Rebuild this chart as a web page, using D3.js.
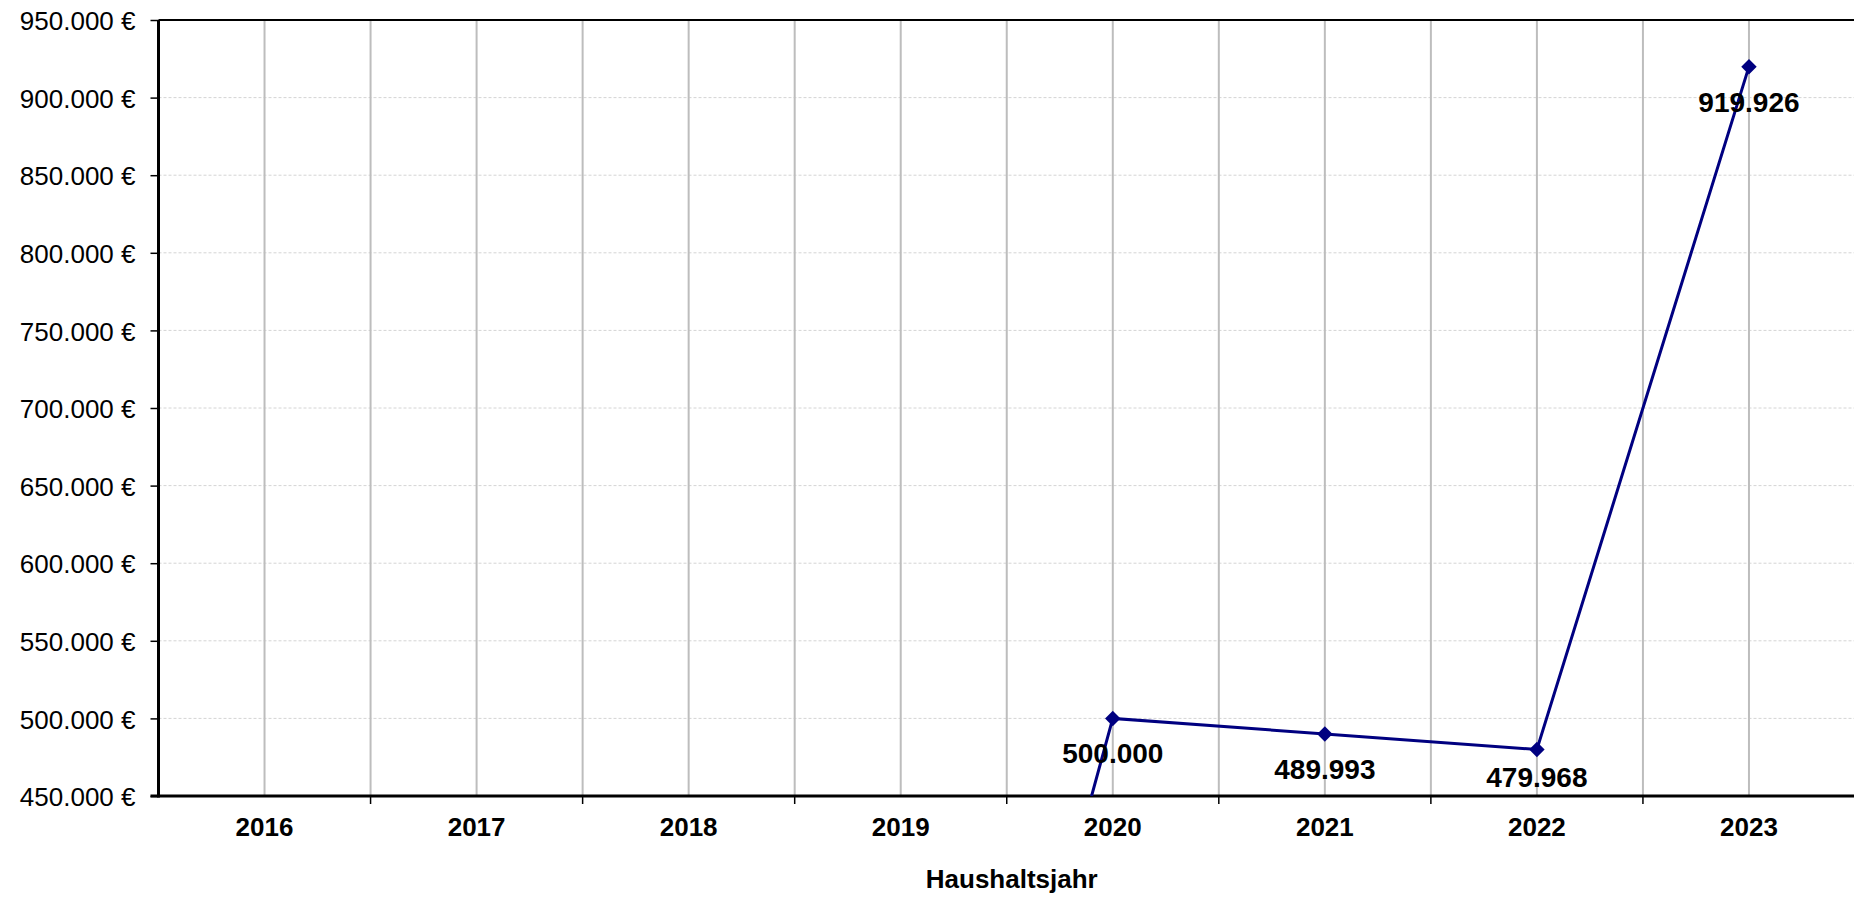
<!DOCTYPE html>
<html>
<head>
<meta charset="utf-8">
<script src="https://cdn.jsdelivr.net/npm/d3@7"></script>
<style>
    html, body { margin: 0; padding: 0; background: #fff; overflow: hidden; }
    svg { display: block; font-family: "Liberation Sans", Arial, sans-serif; }
</style>
</head>
<body>
<svg width="1854" height="897"></svg>
<script>
// chart data
var years = ["2016", "2017", "2018", "2019", "2020", "2021", "2022", "2023"];
var amounts = [null, null, null, 0, 500000, 489993, 479968, 919926];
var yTicks = [450000, 500000, 550000, 600000, 650000, 700000, 750000, 800000, 850000, 900000, 950000];

var svg = d3.select("svg");
var margin = {top: 20, right: 0, bottom: 101, left: 158.5};
var width = 1854 - margin.left - margin.right + 1;
var height = 897 - margin.top - margin.bottom;

var fmt = d3.formatLocale({decimal: ",", thousands: ".", grouping: [3], currency: ["", " €"]}).format(",.0f");

var x = d3.scaleBand().domain(years).range([0, width]).padding(0);
var y = d3.scaleLinear().domain([450000, 950000]).range([height, 0]);

var g = svg.append("g")
    .attr("transform", "translate(" + margin.left + "," + margin.top + ")");

svg.append("defs").append("clipPath").attr("id", "plot")
    .append("rect").attr("x", 0).attr("y", 0).attr("width", width).attr("height", height);

// horizontal grid (dashed)
g.append("g").selectAll("line")
    .data(yTicks.slice(1, -1))
    .enter().append("line")
    .attr("x1", 0).attr("x2", width)
    .attr("y1", function(d) { return y(d); })
    .attr("y2", function(d) { return y(d); })
    .style("stroke", "#d4d4d4")
    .style("stroke-width", 1)
    .style("stroke-dasharray", "3,2");

// vertical grid at category centres and borders
var vLines = [];
years.forEach(function(d, i) {
    vLines.push(x(d) + x.bandwidth() / 2);
    if (i > 0) vLines.push(x(d));
});
g.append("g").selectAll("line")
    .data(vLines)
    .enter().append("line")
    .attr("x1", function(d) { return d; })
    .attr("x2", function(d) { return d; })
    .attr("y1", 0).attr("y2", height)
    .style("stroke", "#bdbdbd")
    .style("stroke-width", 2);

// top border
g.append("line")
    .attr("x1", 0).attr("x2", width).attr("y1", 0).attr("y2", 0)
    .style("stroke", "#000").style("stroke-width", 2);

// y axis
var yAxis = g.append("g")
    .call(d3.axisLeft(y).tickValues(yTicks).tickSize(8).tickPadding(15)
        .tickFormat(function(d) { return fmt(d) + " €"; }));
yAxis.select(".domain").remove();
yAxis.selectAll(".tick line").style("stroke", "#000").style("stroke-width", 1.5);
yAxis.selectAll("text")
    .style("font-family", "Liberation Sans, Arial, sans-serif")
    .style("font-size", "26px")
    .attr("dy", "0.37em")
    .attr("fill", "#000");

// x axis ticks at category borders
g.append("g").selectAll("line")
    .data(years.slice(1))
    .enter().append("line")
    .attr("x1", function(d) { return x(d); })
    .attr("x2", function(d) { return x(d); })
    .attr("y1", height).attr("y2", height + 8)
    .style("stroke", "#000").style("stroke-width", 1.5);

g.append("g").selectAll("text")
    .data(years)
    .enter().append("text")
    .attr("x", function(d) { return x(d) + x.bandwidth() / 2; })
    .attr("y", height + 40)
    .attr("text-anchor", "middle")
    .style("font-size", "26px")
    .style("font-weight", "bold")
    .text(function(d) { return d; });

g.append("line")
    .attr("x1", 0).attr("x2", 0).attr("y1", 0).attr("y2", height + 1.5)
    .style("stroke", "#000").style("stroke-width", 3);
g.append("line")
    .attr("x1", -8).attr("x2", width).attr("y1", height).attr("y2", height)
    .style("stroke", "#000").style("stroke-width", 3);

// axis title
svg.append("text")
    .attr("x", margin.left + width / 2 + 5)
    .attr("y", 888)
    .attr("text-anchor", "middle")
    .style("font-size", "26px")
    .style("font-weight", "bold")
    .text("Haushaltsjahr");

// series
var pts = years.map(function(d, i) { return {year: d, value: amounts[i]}; })
    .filter(function(d) { return d.value !== null; });

var series = g.append("g").attr("clip-path", "url(#plot)");

var line = d3.line()
    .x(function(d) { return x(d.year) + x.bandwidth() / 2; })
    .y(function(d) { return y(d.value); });

series.append("path")
    .datum(pts)
    .attr("d", line)
    .style("fill", "none")
    .style("stroke", "#000080")
    .style("stroke-width", 3);

series.selectAll(".marker")
    .data(pts)
    .enter().append("path")
    .attr("class", "marker")
    .attr("d", d3.symbol().type(d3.symbolSquare).size(120))
    .attr("transform", function(d) {
        return "translate(" + (x(d.year) + x.bandwidth() / 2) + "," + y(d.value) + ") rotate(45)";
    })
    .style("fill", "#000080");

// data labels only for points inside the value range
g.append("g").selectAll(".lbl")
    .data(pts.filter(function(d) { return d.value >= y.domain()[0]; }))
    .enter().append("text")
    .attr("class", "lbl")
    .attr("x", function(d) { return x(d.year) + x.bandwidth() / 2; })
    .attr("y", function(d) { return Math.min(y(d.value) + 45, height - 9); })
    .attr("text-anchor", "middle")
    .style("font-size", "28px")
    .style("font-weight", "bold")
    .text(function(d) { return fmt(d.value); });
</script>
</body>
</html>
